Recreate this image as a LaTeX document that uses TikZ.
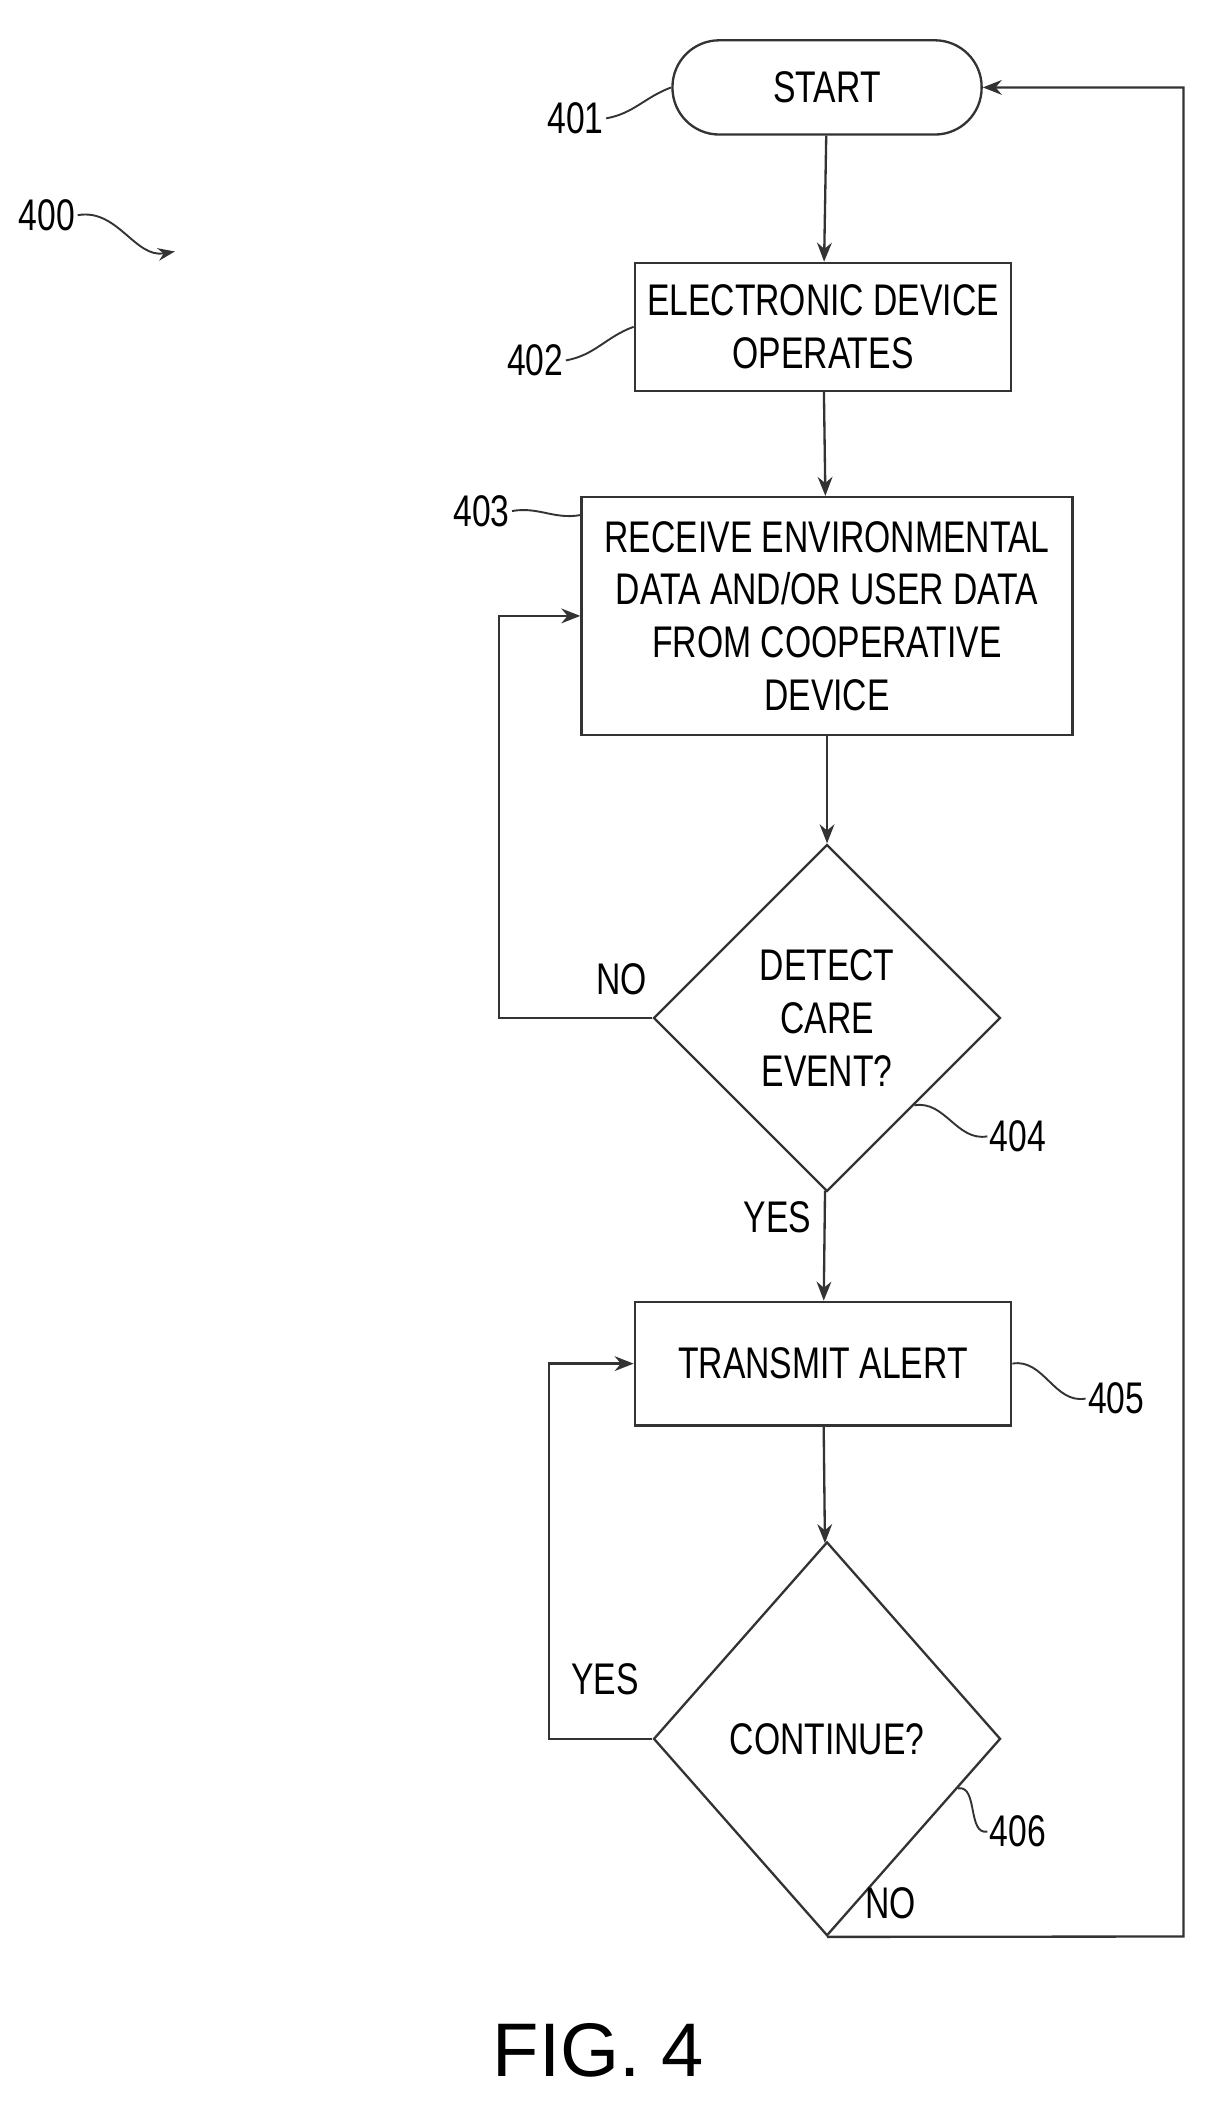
\documentclass[tikz,border=0pt]{standalone}
\usepackage{fontspec}
\setmainfont{Liberation Sans}[FakeStretch=0.76]
\newfontfamily\figfont{Liberation Sans}
\usetikzlibrary{shapes.geometric,arrows.meta,calc}
\tikzset{
  line/.style={draw=black!80,line width=1.1pt},
  box/.style={line,rectangle,align=center,inner sep=2pt},
  term/.style={line,rectangle,rounded corners=0.78cm,minimum width=5.15cm,minimum height=1.57cm},
  dec/.style={line,diamond,align=center,inner sep=0pt},
  arr/.style={line,-{Stealth[length=9pt,width=7pt]}},
  lbl/.style={inner sep=1pt},
  leader/.style={draw=black!80,line width=0.9pt}
}
\begin{document}
\begin{tikzpicture}[x=0.0224cm,y=-0.0224cm,font=\fontsize{21}{25}\selectfont]
  \useasboundingbox (0,0) rectangle (900,1572);
  % shapes
  \node[term] (start) at (615,65) {START};
  \node[box,minimum width=6.27cm,minimum height=2.13cm] (b402) at (612,243) {ELECTRONIC DEVICE\\OPERATES};
  \node[box,minimum width=8.18cm,minimum height=3.96cm] (b403) at (615,458) {RECEIVE ENVIRONMENTAL\\DATA AND/OR USER DATA\\FROM COOPERATIVE\\DEVICE};
  \node[dec,minimum width=5.78cm,minimum height=5.78cm] (d404) at (615,757) {DETECT\\CARE\\EVENT?};
  \node[box,minimum width=6.27cm,minimum height=2.06cm] (b405) at (612,1014) {TRANSMIT ALERT};
  \node[dec,minimum width=5.78cm,minimum height=6.56cm] (d406) at (615,1293) {CONTINUE?};
  % reference labels
  \node[lbl] (l400) at (35,160) {400};
  \node[lbl] (l401) at (428,88) {401};
  \node[lbl] (l402) at (398,268) {402};
  \node[lbl] (l403) at (358,380) {403};
  \node[lbl] (l404) at (757,845) {404};
  \node[lbl] (l405) at (830,1040) {405};
  \node[lbl] (l406) at (757,1362) {406};
  \node[lbl] (fig) at (445,1525) {\figfont\fontsize{36}{40}\selectfont FIG. 4};
  \coordinate (p400) at (130,187);
  \coordinate (rt) at (880,1440);
  % leaders
  \draw[leader,-{Stealth[length=8pt,width=6pt]}] (l400.east) to[out=10,in=190] (p400);
  \draw[leader] (l401.east) to[out=10,in=200] (start.west);
  \draw[leader] (l402.east) to[out=10,in=200] (b402.west);
  \draw[leader] (l403.east) to[out=10,in=190] ($(b403.north west)!0.08!(b403.south west)$);
  \draw[leader] (l404.west) to[out=190,in=10] (d404.south east);
  \draw[leader] (l405.west) to[out=190,in=10] (b405.east);
  \draw[leader] (l406.west) to[out=190,in=10] ($(d406.south east)!0.5!(d406.east)$);
  % flow
  \draw[arr] (start) -- (b402);
  \draw[arr] (b402) -- (b403);
  \draw[arr] (b403) -- (d404);
  \draw[arr] (d404.west) -- ++(-114,0) |- (b403.west);
  \node[lbl,above] (no404) at (462,742) {NO};
  \draw[arr] (d404) -- (b405);
  \node[lbl] (yes404) at (578,905) {YES};
  \draw[arr] (b405) -- (d406);
  \draw[arr] (d406.west) -- ++(-77,0) |- (b405.west);
  \node[lbl,above] (yes406) at (450,1262) {YES};
  \draw[arr] (d406.south) -- (rt) |- (start.east);
  \node[lbl] (no406) at (662,1415) {NO};
\end{tikzpicture}
\end{document}
